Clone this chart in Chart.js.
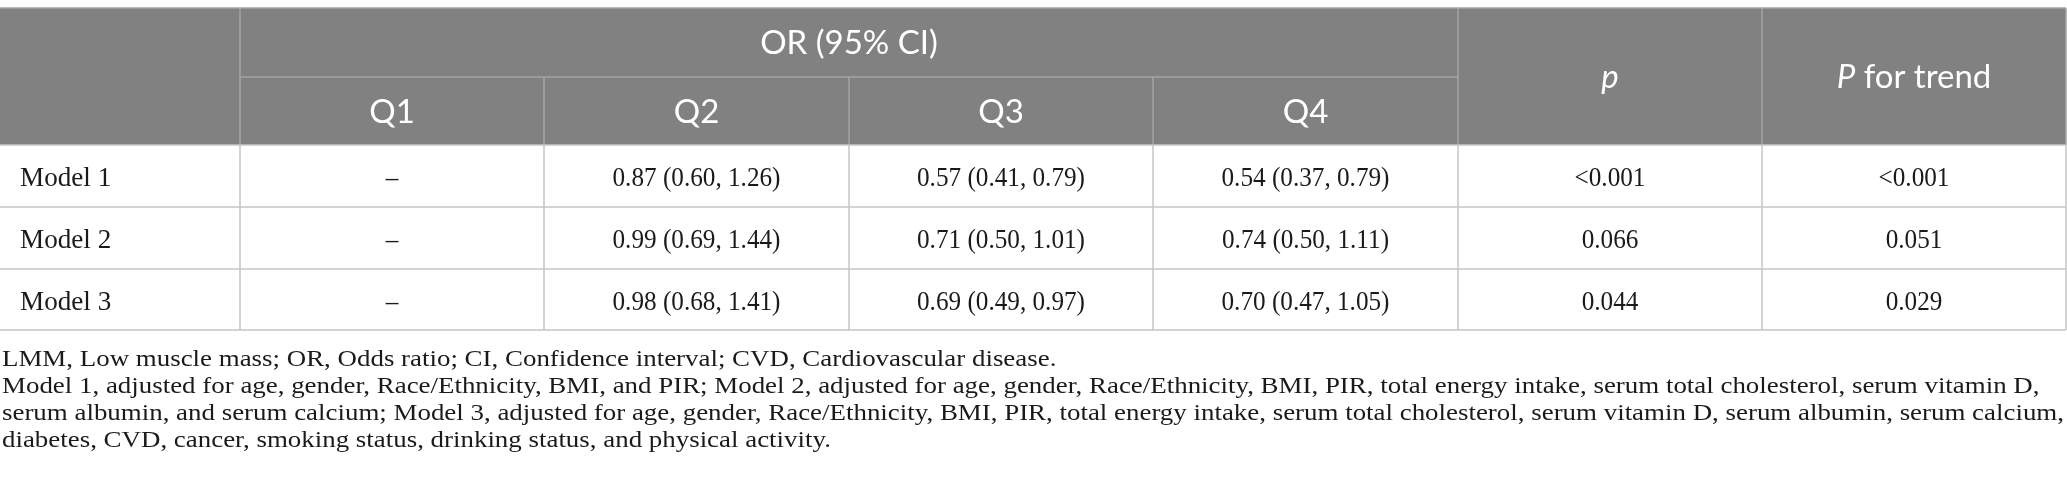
<!DOCTYPE html>
<html>
<head>
<meta charset="utf-8">
<title>OR (95% CI) by quartile</title>
<script src="https://cdn.jsdelivr.net/npm/chart.js@4.4.1/dist/chart.umd.min.js"></script>
<style>
  html, body { margin: 0; padding: 0; background: #fff; }
  #wrap { width: 2067px; height: 498px; position: relative; }
</style>
</head>
<body>
<div id="wrap"><canvas id="chart"></canvas></div>
<script>
// table content
const groupTitle = 'OR (95% CI)';
const quartiles = ['Q1', 'Q2', 'Q3', 'Q4'];
const models = ['Model 1', 'Model 2', 'Model 3'];
const q1 = ['–', '–', '–'];
const q2 = ['0.87 (0.60, 1.26)', '0.99 (0.69, 1.44)', '0.98 (0.68, 1.41)'];
const q3 = ['0.57 (0.41, 0.79)', '0.71 (0.50, 1.01)', '0.69 (0.49, 0.97)'];
const q4 = ['0.54 (0.37, 0.79)', '0.74 (0.50, 1.11)', '0.70 (0.47, 1.05)'];
const pValues = ['<0.001', '0.066', '0.044'];
const pTrend = ['<0.001', '0.051', '0.029'];
const notes = [
  'LMM, Low muscle mass; OR, Odds ratio; CI, Confidence interval; CVD, Cardiovascular disease.',
  'Model 1, adjusted for age, gender, Race/Ethnicity, BMI, and PIR; Model 2, adjusted for age, gender, Race/Ethnicity, BMI, PIR, total energy intake, serum total cholesterol, serum vitamin D,',
  'serum albumin, and serum calcium; Model 3, adjusted for age, gender, Race/Ethnicity, BMI, PIR, total energy intake, serum total cholesterol, serum vitamin D, serum albumin, serum calcium,',
  'diabetes, CVD, cancer, smoking status, drinking status, and physical activity.'
];

// layout (scale units == page pixels)
const colEdges = [0, 240, 544, 849, 1153, 1458, 1762, 2066];
const rowEdges = [8, 77, 145, 207, 269, 330];
const noteBase = [366, 393, 420, 447];
const HEAD_BG = '#808180';
const HEAD_LINE = '#a4a5a4';
const BODY_LINE = '#c6c6c6';
const HEAD_FONT = '33px Lato';
const HEAD_FONT_IT = 'italic 33px Lato';

function line(ctx, x0, y0, x1, y1) {
  ctx.beginPath(); ctx.moveTo(x0, y0); ctx.lineTo(x1, y1); ctx.stroke();
}
function squeezed(ctx, text, x, y, sx) {
  ctx.save(); ctx.translate(x, y); ctx.scale(sx, 1); ctx.fillText(text, 0, 0); ctx.restore();
}

const tablePlugin = {
  id: 'table',
  afterDraw(chart) {
    const ctx = chart.ctx;
    const X = v => chart.scales.x.getPixelForValue(v);
    const Y = v => chart.scales.y.getPixelForValue(v);
    const cx = i => (X(colEdges[i]) + X(colEdges[i + 1])) / 2;
    const last = colEdges.length - 1;

    ctx.save();
    // header block
    ctx.fillStyle = HEAD_BG;
    ctx.fillRect(X(0), Y(rowEdges[0]), X(colEdges[last]) - X(0), Y(rowEdges[2]) - Y(rowEdges[0]));

    ctx.lineWidth = 1.5;
    ctx.strokeStyle = HEAD_LINE;
    line(ctx, X(0), Y(rowEdges[0]), X(colEdges[last]), Y(rowEdges[0]));
    [1, 5, 6, 7].forEach(i => line(ctx, X(colEdges[i]), Y(rowEdges[0]), X(colEdges[i]), Y(rowEdges[2])));
    [2, 3, 4].forEach(i => line(ctx, X(colEdges[i]), Y(rowEdges[1]), X(colEdges[i]), Y(rowEdges[2])));
    line(ctx, X(colEdges[1]), Y(rowEdges[1]), X(colEdges[5]), Y(rowEdges[1]));

    // body grid
    ctx.strokeStyle = BODY_LINE;
    for (let r = 2; r < rowEdges.length; r++) line(ctx, X(0), Y(rowEdges[r]), X(colEdges[last]), Y(rowEdges[r]));
    for (let i = 1; i <= last; i++) line(ctx, X(colEdges[i]), Y(rowEdges[2]), X(colEdges[i]), Y(rowEdges[5]));

    // header text
    ctx.fillStyle = '#ffffff';
    ctx.textBaseline = 'middle';
    ctx.textAlign = 'center';
    ctx.font = HEAD_FONT;
    ctx.fillText(groupTitle, (X(colEdges[1]) + X(colEdges[5])) / 2, Y((rowEdges[0] + rowEdges[1]) / 2) + 1);
    quartiles.forEach((q, i) => ctx.fillText(q, cx(i + 1), Y((rowEdges[1] + rowEdges[2]) / 2) + 1));
    const midHead = Y((rowEdges[0] + rowEdges[2]) / 2) + 1;
    ctx.font = HEAD_FONT_IT;
    ctx.fillText('p', cx(5), midHead);
    // "P for trend" with italic P
    const itP = 'P', rest = ' for trend';
    const w1 = ctx.measureText(itP).width;
    ctx.font = HEAD_FONT;
    const w2 = ctx.measureText(rest).width;
    const sx0 = cx(6) - (w1 + w2) / 2;
    ctx.textAlign = 'left';
    ctx.font = HEAD_FONT_IT;
    ctx.fillText(itP, sx0, midHead);
    ctx.font = HEAD_FONT;
    ctx.fillText(rest, sx0 + w1, midHead);

    // body text
    ctx.fillStyle = '#1a1a1a';
    ctx.textBaseline = 'alphabetic';
    ctx.font = '28px "Liberation Serif"';
    const cols = [q1, q2, q3, q4, pValues, pTrend];
    models.forEach((m, r) => {
      const yb = Y((rowEdges[r + 2] + rowEdges[r + 3]) / 2) + 10;
      ctx.textAlign = 'left';
      squeezed(ctx, m, X(20), yb, 0.97);
      ctx.textAlign = 'center';
      cols.forEach((c, k) => squeezed(ctx, c[r], cx(k + 1), yb, 0.9));
    });

    // footnotes
    ctx.textAlign = 'left';
    ctx.font = '24px "Liberation Serif"';
    const fit = (X(2064) - X(2)) / ctx.measureText(notes[2]).width;
    notes.forEach((t, i) => squeezed(ctx, t, X(2), Y(noteBase[i]), fit));
    ctx.restore();
  }
};

const chart = new Chart(document.getElementById('chart'), {
  type: 'scatter',
  data: { datasets: [{ data: [], pointRadius: 0 }] },
  options: {
    responsive: true,
    maintainAspectRatio: false,
    animation: false,
    layout: { padding: 0 },
    plugins: { legend: { display: false }, tooltip: { enabled: false } },
    scales: {
      x: { type: 'linear', min: 0, max: 2067, display: false },
      y: { type: 'linear', min: 0, max: 498, reverse: true, display: false }
    }
  },
  plugins: [tablePlugin]
});
</script>
</body>
</html>
